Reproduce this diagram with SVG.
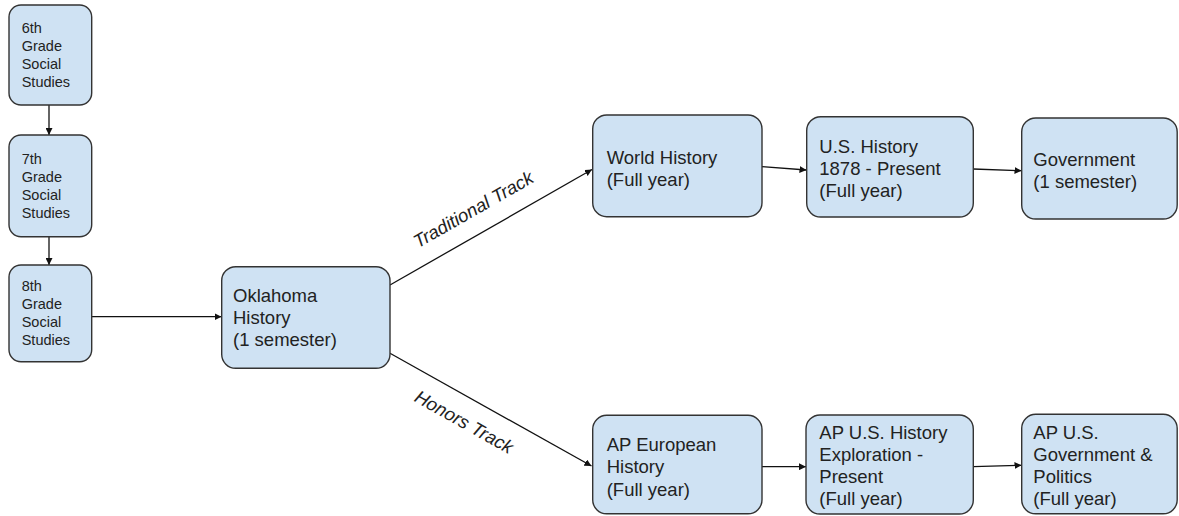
<svg xmlns="http://www.w3.org/2000/svg" width="1179" height="516" viewBox="0 0 1179 516">
<style>
.box{fill:#cfe2f3;stroke:#333;stroke-width:1.4}
.t{font-family:"Liberation Sans",Arial,sans-serif;fill:#222}
.s{font-size:14.5px}
.b{font-size:18.5px}
.lbl{font-family:"Liberation Sans",Arial,sans-serif;font-size:18.5px;font-style:italic;fill:#222}
.c{fill:none;stroke:#111;stroke-width:1.3;marker-end:url(#ah)}
</style>
<defs>
<marker id="ah" viewBox="0 0 10 10" refX="10" refY="5" markerWidth="7" markerHeight="7" markerUnits="userSpaceOnUse" orient="auto">
<path d="M0,0 L10,5 L0,10 z" fill="#111"/>
</marker>
</defs>
<g id="connectors">
<path class="c" d="M49,105 L49,135"/>
<path class="c" d="M49,236.7 L49,265"/>
<path class="c" d="M91.7,316.7 L221.5,316.7"/>
<path class="c" d="M390,285 L592,169.5"/>
<path class="c" d="M390,353.3 L591.5,466"/>
<path class="c" d="M762,166.7 L806.5,170"/>
<path class="c" d="M973.3,169 L1021.5,170.7"/>
<path class="c" d="M762,466.7 L806,466.7"/>
<path class="c" d="M973.3,466.7 L1021.5,465.3"/>
<text class="lbl" transform="translate(476.5,215) rotate(-29.8)" text-anchor="middle">Traditional Track</text>
<text class="lbl" transform="translate(461,427.5) rotate(29.2)" text-anchor="middle">Honors Track</text>
</g>
<g id="n6">
<rect class="box" x="9" y="5" width="82.7" height="100" rx="12"/>
<text class="t s"><tspan x="21.7" y="33">6th</tspan><tspan x="21.7" y="51">Grade</tspan><tspan x="21.7" y="69">Social</tspan><tspan x="21.7" y="87">Studies</tspan></text>
</g>
<g id="n7">
<rect class="box" x="9" y="135" width="82.7" height="101.7" rx="12"/>
<text class="t s"><tspan x="21.7" y="164">7th</tspan><tspan x="21.7" y="182">Grade</tspan><tspan x="21.7" y="200">Social</tspan><tspan x="21.7" y="218">Studies</tspan></text>
</g>
<g id="n8">
<rect class="box" x="9" y="265" width="82.7" height="96.7" rx="12"/>
<text class="t s"><tspan x="21.7" y="291">8th</tspan><tspan x="21.7" y="309">Grade</tspan><tspan x="21.7" y="327">Social</tspan><tspan x="21.7" y="345">Studies</tspan></text>
</g>
<g id="oklahoma">
<rect class="box" x="221.7" y="266.7" width="168.3" height="101.6" rx="14"/>
<text class="t b"><tspan x="233" y="301.7">Oklahoma</tspan><tspan x="233" y="323.7">History</tspan><tspan x="233" y="345.7">(1 semester)</tspan></text>
</g>
<g id="world">
<rect class="box" x="592.7" y="115" width="169.3" height="101.7" rx="14"/>
<text class="t b"><tspan x="606.7" y="164">World History</tspan><tspan x="606.7" y="186">(Full year)</tspan></text>
</g>
<g id="ushistory">
<rect class="box" x="806.7" y="116.7" width="166.6" height="100.3" rx="14"/>
<text class="t b"><tspan x="819.3" y="153.3">U.S. History</tspan><tspan x="819.3" y="175.3">1878 - Present</tspan><tspan x="819.3" y="197.3">(Full year)</tspan></text>
</g>
<g id="gov">
<rect class="box" x="1021.7" y="118" width="155.5" height="101" rx="14"/>
<text class="t b"><tspan x="1033.3" y="165.7">Government</tspan><tspan x="1033.3" y="187.7">(1 semester)</tspan></text>
</g>
<g id="apeuro">
<rect class="box" x="592.7" y="415.3" width="169.3" height="98.5" rx="14"/>
<text class="t b"><tspan x="606.7" y="451">AP European</tspan><tspan x="606.7" y="473.3">History</tspan><tspan x="606.7" y="495.6">(Full year)</tspan></text>
</g>
<g id="apush">
<rect class="box" x="806" y="415" width="167.3" height="99" rx="14"/>
<text class="t b"><tspan x="819.3" y="439.3">AP U.S. History</tspan><tspan x="819.3" y="461.3">Exploration -</tspan><tspan x="819.3" y="483.3">Present</tspan><tspan x="819.3" y="505.3">(Full year)</tspan></text>
</g>
<g id="apgov">
<rect class="box" x="1021.7" y="414.3" width="155.5" height="99.5" rx="14"/>
<text class="t b"><tspan x="1033.3" y="439.3">AP U.S.</tspan><tspan x="1033.3" y="461.3">Government &amp;</tspan><tspan x="1033.3" y="483.3">Politics</tspan><tspan x="1033.3" y="505.3">(Full year)</tspan></text>
</g>
</svg>
